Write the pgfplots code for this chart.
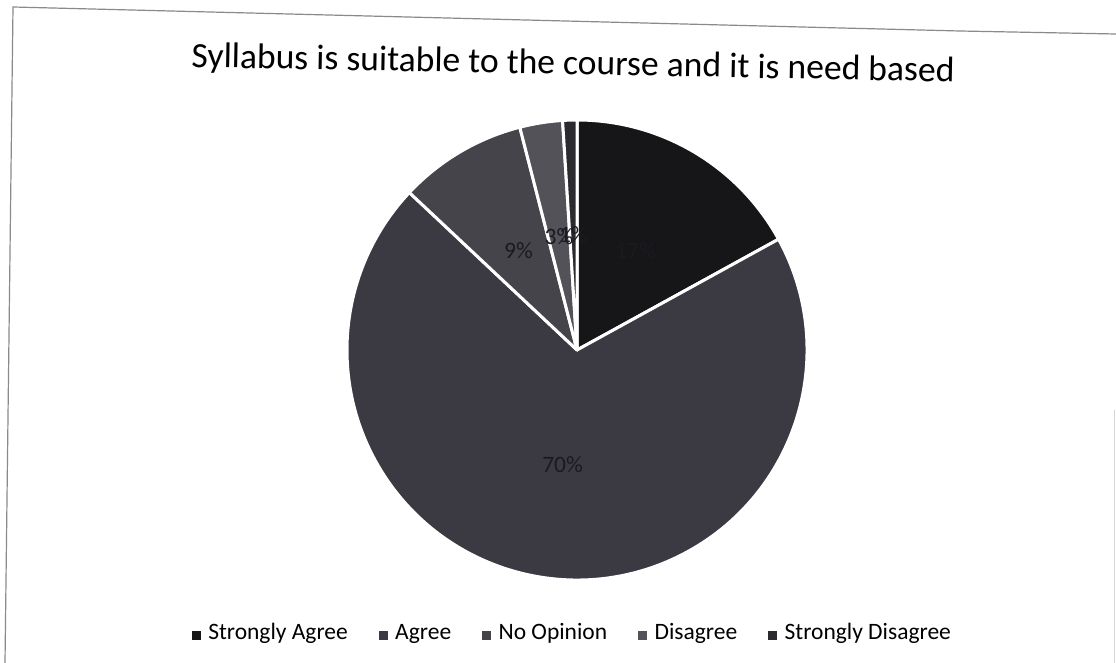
\documentclass[border=0pt]{standalone}
\usepackage{fontspec}
\setmainfont{Carlito}
\usepackage{pgfplots}
\usepackage{pgfplotstable}
\pgfplotsset{compat=1.18}

\definecolor{cSA}{HTML}{161619}
\definecolor{cAG}{HTML}{3B3A42}
\definecolor{cNO}{HTML}{45444B}
\definecolor{cDI}{HTML}{535258}
\definecolor{cSD}{HTML}{2A2A2F}
\definecolor{cLab}{HTML}{1A1A20}
\definecolor{frame}{HTML}{8A8A8A}

% answers in percent, clockwise from 12 o'clock
\pgfplotstableread[col sep=comma]{
label,value,color
Strongly Agree,17,cSA
Agree,70,cAG
No Opinion,9,cNO
Disagree,3,cDI
Strongly Disagree,1,cSD
}\piedata

\begin{document}
\begin{tikzpicture}
\path[use as bounding box] (0pt,0pt) rectangle (1116pt,-663pt);
\fill[white] (0pt,0pt) rectangle (1116pt,-663pt);

% scanned page frame
\draw[frame, line width=1.2pt] (5pt,-663pt) -- (13pt,-7pt) -- (960pt,-31pt) -- (1116pt,-34pt);
\draw[frame!35, line width=0.8pt] (1114pt,-410pt) -- (1114pt,-663pt);

\node[font=\fontsize{35.6}{42}\selectfont, anchor=base, rotate=-1.1, inner sep=0pt]
  at (573pt,-74.5pt) {Syllabus is suitable to the course and it is need based};

\begin{axis}[
  at={(577pt,-350pt)}, anchor=center,
  scale only axis, width=460pt, height=460pt,
  xmin=-1, xmax=1, ymin=-1, ymax=1,
  hide axis, clip=false,
  legend columns=5,
  legend style={draw=none, fill=none, at={(0.49,-0.124)}, anchor=center,
    font=\fontsize{23.5}{28}\selectfont,
    nodes={text height=0.7em, text depth=0.25em},
    /tikz/every odd column/.append style={column sep=6pt},
    /tikz/every even column/.append style={column sep=29pt}},
  legend cell align=left,
]
\def\cum{0}
\pgfplotsforeachungrouped \i in {0,...,4} {
  \pgfplotstablegetelem{\i}{value}\of\piedata \let\v\pgfplotsretval
  \pgfplotstablegetelem{\i}{color}\of\piedata \let\c\pgfplotsretval
  \pgfmathsetmacro\aA{90-3.6*\cum}
  \pgfmathsetmacro\aB{90-3.6*(\cum+\v)}
  \pgfmathsetmacro\cum{\cum+\v}
  \edef\slice{\noexpand\fill[\c, draw=white, line width=3pt, line join=round]
    (axis cs:0,0) -- (axis cs:{cos(\aA)},{sin(\aA)})
    arc[start angle=\aA, end angle=\aB, radius=230pt] -- cycle;}
  \slice
}
\def\cum{0}
\pgfplotsforeachungrouped \i in {0,...,4} {
  \pgfplotstablegetelem{\i}{value}\of\piedata \let\v\pgfplotsretval
  \pgfmathsetmacro\aM{90-3.6*(\cum+\v/2)}
  \pgfmathsetmacro\cum{\cum+\v}
  \edef\lab{\noexpand\node[text=cLab, font=\noexpand\fontsize{23.5}{26}\noexpand\selectfont]
    at (axis cs:{0.5*cos(\aM)},{0.5*sin(\aM)}) {\v\noexpand\%};}
  \lab
}

\addlegendimage{legend image code/.code={\fill[cSA] (0pt,-2pt) rectangle (8pt,6pt);}}
\addlegendentry{Strongly Agree}
\addlegendimage{legend image code/.code={\fill[cAG] (0pt,-2pt) rectangle (8pt,6pt);}}
\addlegendentry{Agree}
\addlegendimage{legend image code/.code={\fill[cNO] (0pt,-2pt) rectangle (8pt,6pt);}}
\addlegendentry{No Opinion}
\addlegendimage{legend image code/.code={\fill[cDI] (0pt,-2pt) rectangle (8pt,6pt);}}
\addlegendentry{Disagree}
\addlegendimage{legend image code/.code={\fill[cSD] (0pt,-2pt) rectangle (8pt,6pt);}}
\addlegendentry{Strongly Disagree}
\end{axis}
\end{tikzpicture}
\end{document}
